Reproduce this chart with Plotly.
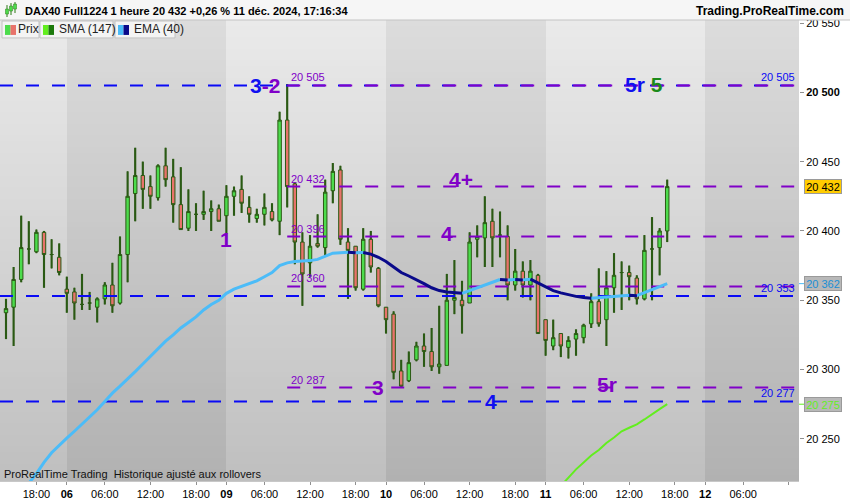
import plotly.graph_objects as go

# --- Données (bougies 1 heure, index 0 = 05/12 14:00) ---
opens = [20341, 20345, 20365, 20387, 20385, 20399, 20383, 20381, 20358, 20356,
         20347, 20348, 20345, 20351, 20361, 20348, 20383, 20427, 20440, 20432,
         20424, 20447, 20439, 20419, 20402, 20412, 20412, 20414, 20416, 20411,
         20425, 20430, 20417, 20409, 20412, 20414, 20407, 20480, 20434, 20392,
         20377, 20391, 20388, 20429, 20444, 20392, 20389, 20358, 20394, 20373,
         20345, 20340, 20299, 20292, 20307, 20317, 20313, 20302, 20303, 20350,
         20350, 20348, 20394, 20395, 20407, 20397, 20396, 20361, 20371, 20361,
         20368, 20336, 20317, 20326, 20316, 20322, 20323, 20333, 20349, 20336,
         20359, 20370, 20370, 20366, 20351, 20387, 20388, 20400]
highs = [20351, 20374, 20411, 20407, 20401, 20400, 20394, 20391, 20367, 20359,
         20369, 20356, 20352, 20363, 20377, 20396, 20443, 20460, 20450, 20440,
         20448, 20460, 20452, 20446, 20430, 20420, 20429, 20422, 20419, 20433,
         20432, 20440, 20425, 20416, 20427, 20420, 20486, 20506, 20435, 20399,
         20397, 20412, 20437, 20449, 20447, 20402, 20389, 20402, 20400, 20374,
         20345, 20342, 20307, 20313, 20320, 20326, 20330, 20346, 20369, 20379,
         20364, 20399, 20404, 20425, 20416, 20414, 20404, 20387, 20378, 20379,
         20369, 20336, 20336, 20326, 20324, 20329, 20333, 20355, 20373, 20371,
         20384, 20378, 20375, 20368, 20397, 20410, 20402, 20437]
lows = [20322, 20317, 20363, 20376, 20384, 20359, 20373, 20368, 20341, 20336,
        20343, 20343, 20334, 20347, 20341, 20347, 20363, 20407, 20416, 20416,
        20422, 20432, 20406, 20401, 20400, 20400, 20408, 20400, 20407, 20398,
        20411, 20413, 20406, 20406, 20404, 20407, 20397, 20417, 20376, 20346,
        20367, 20388, 20382, 20420, 20390, 20351, 20357, 20357, 20370, 20345,
        20326, 20293, 20287, 20291, 20306, 20302, 20299, 20297, 20303, 20340,
        20326, 20348, 20381, 20374, 20374, 20381, 20350, 20357, 20352, 20350,
        20326, 20310, 20314, 20309, 20308, 20310, 20319, 20330, 20331, 20317,
        20341, 20343, 20350, 20347, 20350, 20350, 20368, 20392]
closes = [20344, 20365, 20388, 20387, 20399, 20383, 20383, 20370, 20355, 20348,
          20347, 20348, 20351, 20361, 20346, 20383, 20425, 20440, 20430, 20425,
          20447, 20437, 20419, 20401, 20414, 20412, 20414, 20416, 20407, 20425,
          20429, 20420, 20412, 20412, 20417, 20408, 20480, 20432, 20392, 20369,
          20389, 20389, 20428, 20443, 20394, 20386, 20359, 20394, 20374, 20346,
          20336, 20298, 20288, 20305, 20317, 20313, 20302, 20304, 20350, 20352,
          20346, 20392, 20396, 20406, 20395, 20397, 20361, 20371, 20361, 20371,
          20326, 20321, 20323, 20317, 20321, 20326, 20332, 20349, 20333, 20359,
          20368, 20370, 20367, 20351, 20386, 20387, 20400, 20432]

ema40 = [20194, 20202, 20210, 20218, 20225, 20233, 20240, 20245.5, 20250.5, 20255.5,
         20260.5, 20265.5, 20271, 20277, 20283, 20288, 20293, 20298.5, 20304, 20309.5,
         20315, 20320.5, 20325, 20330, 20334, 20338, 20343, 20347, 20350, 20355,
         20358, 20360, 20362, 20364, 20367, 20370, 20375, 20377, 20378, 20378.3,
         20378.6, 20379.5, 20382, 20384, 20384.3, 20384.6, 20384.2, 20384.5, 20383.3, 20381,
         20378, 20374, 20370, 20367.5, 20365, 20362, 20359, 20357, 20356, 20355.5,
         20355, 20357, 20359.5, 20361.5, 20363.5, 20365, 20364.6, 20365, 20364.7, 20365.2,
         20362.5, 20359.5, 20357, 20355.3, 20353.9, 20352.8, 20352, 20351.4, 20351.8, 20352.4,
         20353, 20353.4, 20353.6, 20353.3, 20355.5, 20357.5, 20359.6, 20362]

sma_debut = 72
sma147 = [20210, 20216, 20222, 20228, 20233, 20238, 20242, 20247, 20251, 20255.5,
          20258, 20260.5, 20264, 20268, 20271.5, 20275]

niveaux_bleus = [20505, 20353, 20277]
niveaux_violets = [20505, 20432, 20396, 20360, 20287]
debut_violet = 37

# repères de l'axe des temps
ticks_idx = [4, 8, 13, 19, 25, 29, 34, 40, 46, 50, 55, 61, 67, 71, 76, 82, 88, 92, 97, 103]
ticks_txt = ['18:00', '<b>06</b>', '06:00', '12:00', '18:00', '<b>09</b>', '06:00', '12:00',
             '18:00', '<b>10</b>', '06:00', '12:00', '18:00', '<b>11</b>', '06:00', '12:00',
             '18:00', '<b>12</b>', '06:00', '']
debuts_jours = [8, 29, 50, 71, 92]

# étiquettes de vagues (texte, index, prix)
vagues = [
    ("<span style='color:#1010f0'>3</span><span style='color:#8000c8'>-2</span>", 34.1, 20505),
    ("<span style='color:#8000c8'>1</span>", 28.9, 20394),
    ("<span style='color:#8000c8'>4+</span>", 59.9, 20437),
    ("<span style='color:#8000c8'>4</span>", 58.0, 20398),
    ("<span style='color:#8000c8'>3</span>", 48.9, 20287),
    ("<span style='color:#1010f0'>4</span>", 63.8, 20277),
    ("<span style='color:#8000c8'>5r</span>", 79.1, 20289),
    ("<span style='color:#1010f0'>5r</span> <span style='color:#1a8a1a'>5</span>", 84.0, 20506),
]

# --- géométrie ---
W, H = 850, 500
L, R, T, B = 0, 51, 20, 17
PW, PH = W - L - R, H - T - B
XMIN, XMAX = -0.79, 104.34
YMIN, YMAX = 20219.6, 20552.2
FONT = 'Liberation Sans, Arial'


def px_x(x):
    return x / PW


def px_y(y):
    return (H - B - y) / PH


def fmt(v):
    return f"{v:,.0f}".replace(',', ' ')


def segments(xs, ys, montant):
    # regroupe les segments montants ou descendants en tronçons continus
    sx, sy = [], []
    run = False
    for i in range(len(ys) - 1):
        ok = (ys[i + 1] >= ys[i]) == montant
        if ok:
            if not run:
                sx.append(xs[i]); sy.append(ys[i])
            sx.append(xs[i + 1]); sy.append(ys[i + 1])
            run = True
        elif run:
            sx.append(None); sy.append(None)
            run = False
    return sx, sy


idx = list(range(len(closes)))
fig = go.Figure()

# fonds alternés par séance (dégradé vertical, heatmap sous les bougies)
bornes = [XMIN] + debuts_jours + [XMAX]
nrows = 80
y_edges = [YMIN + (YMAX - YMIN) * r / nrows for r in range(nrows + 1)]
z = []
for r in range(nrows):
    f = (r + 0.5) / nrows
    z.append([(0.26 if k % 2 == 0 else 0.02) + 0.74 * f for k in range(len(bornes) - 1)])
fig.add_trace(go.Heatmap(x=bornes, y=y_edges, z=z, zmin=0, zmax=1, showscale=False,
                         colorscale=[[0, '#b0b0b0'], [1, '#eaeaea']], hoverinfo='skip'))

# mèches
fig.add_trace(go.Bar(x=idx, base=lows, y=[h - l for h, l in zip(highs, lows)], width=0.28,
                     marker=dict(color='#2b5a14', line=dict(width=0)),
                     hoverinfo='skip', showlegend=False))

# bougies
fig.add_trace(go.Candlestick(x=idx, open=opens, high=highs, low=lows, close=closes,
                             increasing=dict(fillcolor='#4cdc4c', line=dict(color='#2b5a14', width=1)),
                             decreasing=dict(fillcolor='#e8736b', line=dict(color='#2b5a14', width=1)),
                             whiskerwidth=0, showlegend=False, hoverinfo='skip'))

# niveaux horizontaux
for lv in niveaux_bleus:
    fig.add_trace(go.Scatter(x=[XMIN, XMAX], y=[lv, lv], mode='lines',
                             line=dict(color='#0a0af5', width=2, dash='13px,13px'),
                             hoverinfo='skip', showlegend=False))
for lv in niveaux_violets:
    fig.add_trace(go.Scatter(x=[debut_violet, XMAX], y=[lv, lv], mode='lines',
                             line=dict(color='#8000c8', width=2, dash='13px,13px'),
                             hoverinfo='skip', showlegend=False))

# SMA (147)
sx_idx = list(range(sma_debut, sma_debut + len(sma147)))
for montant, col in [(True, '#62ee1e'), (False, '#1c7a0c')]:
    sx, sy = segments(sx_idx, sma147, montant)
    fig.add_trace(go.Scatter(x=sx, y=sy, mode='lines', line=dict(color=col, width=2),
                             hoverinfo='skip', showlegend=False))

# EMA (40)
for montant, col in [(True, '#4cbcf8'), (False, '#0a0a8a')]:
    ex, ey = segments(idx, ema40, montant)
    fig.add_trace(go.Scatter(x=ex, y=ey, mode='lines', line=dict(color=col, width=3),
                             hoverinfo='skip', showlegend=False))

annots = []
# étiquettes de vagues
for txt, xi, pr in vagues:
    annots.append(dict(x=xi, y=pr, xref='x', yref='y', text='<b>' + txt + '</b>', showarrow=False,
                       font=dict(family=FONT, size=21), xanchor='center', yanchor='middle'))

# étiquettes des niveaux
for lv in niveaux_violets:
    annots.append(dict(x=debut_violet + 0.2, y=lv, xref='x', yref='y', text=fmt(lv), showarrow=False,
                       font=dict(family=FONT, size=11, color='#8000c8'),
                       xanchor='left', yanchor='bottom'))
for lv in niveaux_bleus:
    annots.append(dict(x=px_x(797), y=lv, xref='paper', yref='y', text=fmt(lv), showarrow=False,
                       font=dict(family=FONT, size=11, color='#0a0af5'),
                       xanchor='right', yanchor='bottom'))

# valeurs courantes sur l'axe
for v, bg, fc in [(closes[-1], '#ffcc00', '#000000'),
                  (ema40[-1], '#b8b8b8', '#1a8fd6'),
                  (sma147[-1], '#b8b8b8', '#62ee1e')]:
    annots.append(dict(x=px_x(823), y=v, xref='paper', yref='y', text=fmt(v), showarrow=False,
                       font=dict(family=FONT, size=11, color=fc), bgcolor=bg,
                       bordercolor='#9a9a9a', borderwidth=1, borderpad=0,
                       width=36, height=13, xanchor='center', yanchor='middle'))

# en-tête
annots.append(dict(x=px_x(23), y=px_y(11), xref='paper', yref='paper', showarrow=False,
                   text='<b>DAX40 Full1224 1 heure 20 432 +0,26 % 11 déc. 2024, 17:16:34</b>',
                   font=dict(family=FONT, size=11, color='#000000'), xanchor='left', yanchor='middle'))
annots.append(dict(x=px_x(846), y=px_y(11), xref='paper', yref='paper', showarrow=False,
                   text='<b>Trading.ProRealTime.com</b>',
                   font=dict(family=FONT, size=12, color='#000000'), xanchor='right', yanchor='middle'))

# onglets de légende
onglets = [('Prix', 2, 39, '#4cdc4c', '#e8736b', 16),
           ('SMA (147)', 40, 113, '#62ee1e', '#1c7a0c', 57),
           ('EMA (40)', 115, 175, '#4cbcf8', '#0a0a8a', 132)]
shapes = []
shapes.append(dict(type='rect', xref='paper', yref='paper', x0=px_x(0), x1=px_x(W), y0=px_y(20), y1=px_y(0),
                   fillcolor='#f6f6f6', line=dict(width=0), layer='above'))
shapes.append(dict(type='line', xref='paper', yref='paper', x0=px_x(0), x1=px_x(W), y0=px_y(20), y1=px_y(20),
                   line=dict(color='#c4c4c4', width=1), layer='above'))
# petite icône d'en-tête
for cx, y0, y1, b0, b1 in [(7, 5, 17, 9, 14), (11, 3, 15, 6, 11), (15, 2, 13, 4, 9)]:
    shapes.append(dict(type='line', xref='paper', yref='paper', x0=px_x(cx), x1=px_x(cx),
                       y0=px_y(y1), y1=px_y(y0), line=dict(color='#2b7a14', width=1), layer='above'))
    shapes.append(dict(type='rect', xref='paper', yref='paper', x0=px_x(cx - 1.5), x1=px_x(cx + 1.5),
                       y0=px_y(b1), y1=px_y(b0), fillcolor='#4cdc4c', line=dict(color='#2b7a14', width=0.5),
                       layer='above'))
for txt, x0, x1, c1, c2, tx in onglets:
    shapes.append(dict(type='rect', xref='paper', yref='paper', x0=px_x(x0), x1=px_x(x1),
                       y0=px_y(38), y1=px_y(21), fillcolor='#f4f4f4',
                       line=dict(color='#c2c2c2', width=1), layer='above'))
    shapes.append(dict(type='rect', xref='paper', yref='paper', x0=px_x(x0 + 3), x1=px_x(x0 + 8.5),
                       y0=px_y(35), y1=px_y(25), fillcolor=c1, line=dict(width=0), layer='above'))
    shapes.append(dict(type='rect', xref='paper', yref='paper', x0=px_x(x0 + 8.5), x1=px_x(x0 + 14),
                       y0=px_y(35), y1=px_y(25), fillcolor=c2, line=dict(width=0), layer='above'))
    annots.append(dict(x=px_x(tx), y=px_y(29.5), xref='paper', yref='paper', text=txt, showarrow=False,
                       font=dict(family=FONT, size=12, color='#222222'), xanchor='left', yanchor='middle'))

# petits traits colorés sur l'axe
for v, col in [(ema40[-1], '#4cbcf8'), (sma147[-1], '#62ee1e')]:
    shapes.append(dict(type='line', xref='paper', yref='y', x0=1, x1=px_x(804), y0=v, y1=v,
                       line=dict(color=col, width=1)))

# mention en bas
annots.append(dict(x=px_x(2), y=px_y(476), xref='paper', yref='paper', showarrow=False,
                   text='ProRealTime Trading  Historique ajusté aux rollovers',
                   font=dict(family=FONT, size=11, color='#111111'), xanchor='left', yanchor='middle'))

fig.update_layout(
    width=W, height=H,
    margin=dict(l=L, r=R, t=T, b=B, pad=0),
    paper_bgcolor='#ffffff', plot_bgcolor='#d0d0d0',
    showlegend=False, boxgap=0.35, barmode='overlay',
    annotations=annots, shapes=shapes,
    font=dict(family=FONT, size=11, color='#000000'),
    xaxis=dict(range=[XMIN, XMAX], rangeslider=dict(visible=False), showgrid=False, zeroline=False,
               tickmode='array', tickvals=ticks_idx, ticktext=ticks_txt,
               ticks='outside', ticklen=3, tickcolor='#909090',
               showline=True, linecolor='#c8c8c8', linewidth=1,
               tickfont=dict(family=FONT, size=11, color='#000000')),
    yaxis=dict(range=[YMIN, YMAX], side='right', showgrid=False, zeroline=False,
               tickmode='array', tickvals=[20250, 20300, 20350, 20400, 20450, 20500, 20550],
               ticktext=['20 250', '20 300', '20 350', '20 400', '20 450', '<b>20 500</b>', '20 550'],
               ticks='outside', ticklen=4, tickcolor='#909090',
               tickfont=dict(family=FONT, size=11, color='#000000')),
)

fig.write_html("out.html", config={'displayModeBar': False},
               post_script="document.body.style.margin='0';")
